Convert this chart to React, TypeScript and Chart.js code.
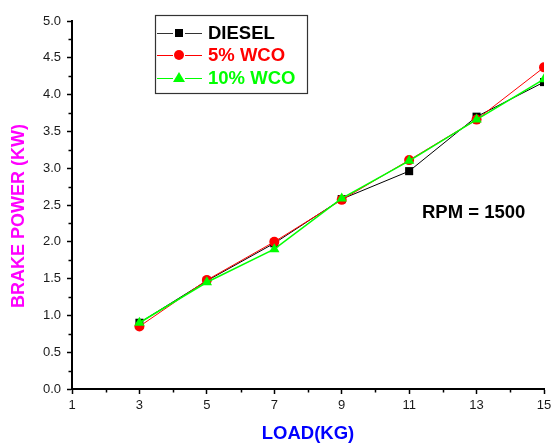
import React, { useEffect, useRef } from "react";
import { Chart, registerables } from "chart.js";

Chart.register(...registerables);

const loads = [3, 5, 7, 9, 11, 13, 15];
const diesel = [0.9, 1.47, 1.98, 2.58, 2.96, 3.7, 4.17];
const wco5 = [0.85, 1.48, 2.0, 2.57, 3.11, 3.66, 4.37];
const wco10 = [0.9, 1.45, 1.9, 2.59, 3.1, 3.66, 4.21];
const seriesNames = ["DIESEL", "5% WCO", "10% WCO"];
const xTicks = [1, 3, 5, 7, 9, 11, 13, 15];
const xMinor = [2, 4, 6, 8, 10, 12, 14];
const yTicks = [0, 0.5, 1, 1.5, 2, 2.5, 3, 3.5, 4, 4.5, 5];
const yMinor = [0.25, 0.75, 1.25, 1.75, 2.25, 2.75, 3.25, 3.75, 4.25, 4.75];
const xTitle = "LOAD(KG)";
const yTitle = "BRAKE POWER (KW)";
const noteText = "RPM = 1500";
const notePos = { x: 11.38, y: 2.39 };

const FONT = "'Liberation Sans', Arial, sans-serif";
const colors = ["#000000", "#FF0000", "#00FF00"];
const styles = ["rect", "circle", "triangle"];

const extras = {
  id: "extras",
  afterDraw(chart: any) {
    const ctx = chart.ctx;
    const xs = chart.scales.x;
    const ys = chart.scales.y;
    const area = chart.chartArea;
    ctx.save();
    // minor ticks
    ctx.strokeStyle = "#000";
    ctx.lineWidth = 1.5;
    ctx.beginPath();
    xMinor.forEach((v) => {
      const px = Math.round(xs.getPixelForValue(v)) + 0.5;
      ctx.moveTo(px, area.bottom);
      ctx.lineTo(px, area.bottom + 3.5);
    });
    yMinor.forEach((v) => {
      const py = Math.round(ys.getPixelForValue(v)) + 0.5;
      ctx.moveTo(area.left, py);
      ctx.lineTo(area.left - 3.5, py);
    });
    ctx.stroke();

    // y title
    ctx.save();
    ctx.translate(19.5, (area.top + area.bottom) / 2 + 11);
    ctx.rotate(-Math.PI / 2);
    ctx.fillStyle = "#FF00FF";
    ctx.font = `bold 18px ${FONT}`;
    ctx.textAlign = "center";
    ctx.textBaseline = "middle";
    ctx.fillText(yTitle, 0, 0);
    ctx.restore();

    // note text
    ctx.fillStyle = "#000";
    ctx.font = `bold 18.5px ${FONT}`;
    ctx.textAlign = "left";
    ctx.textBaseline = "middle";
    ctx.fillText(noteText, xs.getPixelForValue(notePos.x), ys.getPixelForValue(notePos.y));

    // legend
    const bx = area.left + 83;
    const by = 15;
    const bw = 152;
    const bh = 78;
    ctx.strokeStyle = "#333";
    ctx.lineWidth = 1.2;
    ctx.strokeRect(bx + 0.5, by + 0.5, bw, bh);
    const rows = [33, 55, 78];
    seriesNames.forEach((name, i) => {
      const ry = rows[i];
      const c = colors[i];
      ctx.strokeStyle = i === 0 ? "#333" : c;
      ctx.lineWidth = 1;
      ctx.beginPath();
      ctx.moveTo(bx + 2, ry + 0.5);
      ctx.lineTo(bx + 18, ry + 0.5);
      ctx.moveTo(bx + 30, ry + 0.5);
      ctx.lineTo(bx + 47, ry + 0.5);
      ctx.stroke();
      ctx.fillStyle = c;
      const mx = bx + 24;
      if (i === 0) {
        ctx.fillRect(mx - 4, ry - 4, 8, 8);
      } else if (i === 1) {
        ctx.beginPath();
        ctx.arc(mx, ry, 5, 0, Math.PI * 2);
        ctx.fill();
      } else {
        ctx.beginPath();
        ctx.moveTo(mx, ry - 6);
        ctx.lineTo(mx + 6, ry + 4);
        ctx.lineTo(mx - 6, ry + 4);
        ctx.closePath();
        ctx.fill();
      }
      ctx.fillStyle = c;
      ctx.font = `bold 18.5px ${FONT}`;
      ctx.textAlign = "left";
      ctx.textBaseline = "middle";
      ctx.fillText(name, bx + 53, ry + 1);
    });
    ctx.restore();
  },
};

export default function App() {
  const ref = useRef<HTMLCanvasElement>(null);
  useEffect(() => {
    const all = [diesel, wco5, wco10];
    const widths = [1, 1, 1.5];
    const radii = [5.7, 5, 6];
    const chart = new Chart(ref.current as HTMLCanvasElement, {
      type: "line",
      data: {
        datasets: all.map((arr, i) => ({
          label: seriesNames[i],
          data: loads.map((l, j) => ({ x: l, y: arr[j] })),
          borderColor: colors[i],
          backgroundColor: colors[i],
          borderWidth: widths[i],
          pointStyle: styles[i] as any,
          pointRadius: radii[i],
          pointBorderWidth: 0,
          pointBackgroundColor: colors[i],
          tension: 0,
          order: 2 - i,
        })),
      },
      options: {
        responsive: false,
        animation: false,
        devicePixelRatio: 1,
        layout: { padding: { top: 21, right: 0, left: 0, bottom: 0 } },
        plugins: { legend: { display: false }, tooltip: { enabled: false } },
        scales: {
          x: {
            type: "linear",
            min: 1,
            max: 15,
            afterBuildTicks: (s: any) => {
              s.ticks = xTicks.map((v) => ({ value: v }));
            },
            afterFit: (s: any) => {
              s.height = 54;
              s.paddingRight = 8;
            },
            ticks: {
              font: { family: FONT, size: 13 },
              color: "#1a1a1a",
              padding: 4,
              maxRotation: 0,
              autoSkip: false,
            },
            grid: {
              drawOnChartArea: false,
              drawTicks: true,
              tickLength: 5,
              tickColor: "#000",
              tickWidth: 1.5,
            },
            border: { display: true, color: "#000", width: 2 },
            title: {
              display: true,
              text: xTitle,
              color: "#0000FF",
              font: { family: FONT, size: 18.5, weight: "bold", lineHeight: 1 },
              padding: { top: 0, bottom: 0 },
            },
          },
          y: {
            type: "linear",
            min: 0,
            max: 5,
            afterBuildTicks: (s: any) => {
              s.ticks = yTicks.map((v) => ({ value: v }));
            },
            afterFit: (s: any) => {
              s.width = 72;
            },
            ticks: {
              font: { family: FONT, size: 13 },
              color: "#1a1a1a",
              padding: 6,
              autoSkip: false,
              callback: (v: any) => Number(v).toFixed(1),
            },
            grid: {
              drawOnChartArea: false,
              drawTicks: true,
              tickLength: 5,
              tickColor: "#000",
              tickWidth: 1.5,
            },
            border: { display: true, color: "#000", width: 2 },
            title: { display: false },
          },
        },
      },
      plugins: [extras],
    });
    return () => chart.destroy();
  }, []);
  return (
    <div style={{ position: "fixed", left: 0, top: 0, width: 552, height: 443, background: "#fff" }}>
      <canvas ref={ref} width={552} height={443} />
    </div>
  );
}
